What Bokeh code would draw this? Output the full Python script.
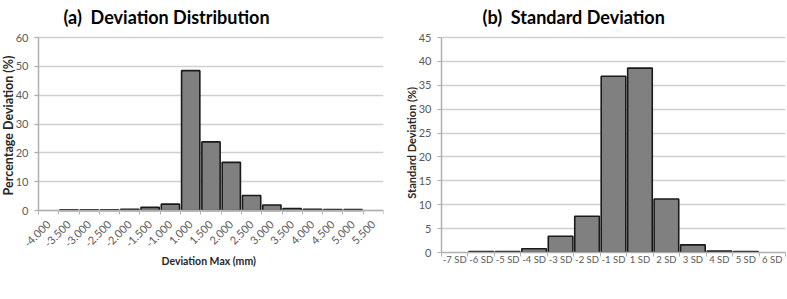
import math
from bokeh.plotting import figure
from bokeh.layouts import row
from bokeh.models import FixedTicker, Range1d, ColumnDataSource, LinearAxis, Grid, Title
from bokeh.embed import file_html
from bokeh.resources import INLINE

# ---- data: (a) Deviation Distribution ----
dev_labels = ["-4.000", "-3.500", "-3.000", "-2.500", "-2.000", "-1.500", "-1.000",
              "1.000", "1.500", "2.000", "2.500", "3.000", "3.500", "4.000",
              "4.500", "5.000", "5.500"]
dev_pct = [None, 0.2, 0.2, 0.2, 0.4, 1.1, 2.2, 48.5, 23.8, 16.7, 5.2, 1.9, 0.7,
           0.4, 0.3, 0.3, None]
dev_yticks = [0, 10, 20, 30, 40, 50, 60]

# ---- data: (b) Standard Deviation ----
sd_labels = ["-7 SD", "-6 SD", "-5 SD", "-4 SD", "-3 SD", "-2 SD", "-1 SD",
             "1 SD", "2 SD", "3 SD", "4 SD", "5 SD", "6 SD"]
sd_pct = [None, 0.2, 0.2, 0.8, 3.4, 7.6, 36.9, 38.6, 11.2, 1.6, 0.3, 0.2, None]
sd_yticks = [0, 5, 10, 15, 20, 25, 30, 35, 40, 45]

FONT = "Lato"
TICK_COLOR = "#595959"
GRID_COLOR = "#d0d0d0"
AXIS_COLOR = "#b0b0b0"
BAR_FILL = "#808080"
BAR_LINE = "#1a1a1a"

# layout (pixels)
H = 299
BORDER_TOP = 30
TOP_PAD = 7            # frame top to the highest gridline
LEFT_PLOT_PX = 173     # highest to lowest gridline, panel (a)
RIGHT_PLOT_PX = 215    # highest to lowest gridline, panel (b)
FRAME_H = TOP_PAD + RIGHT_PLOT_PX
BORDER_BOTTOM = H - BORDER_TOP - FRAME_H
LEFT_AXIS_PX = 38      # y axis of panel (a), px from the figure's left edge
LEFT_CAT_PX = 345      # width of the category band of panel (a)
LEFT_BORDER_R = 17
RIGHT_BORDER_L, RIGHT_BORDER_R, RIGHT_FRAME_W = 41, 2, 344

HAS_CROSS = "cross_bounds" in Grid.properties()


def style_title(p, text, offset):
    p.title.text = text
    p.title.text_font = FONT
    p.title.text_font_style = "bold"
    p.title.text_font_size = "18px"
    p.title.text_color = "black"
    p.title.align = "left"
    p.title.offset = offset
    p.title.standoff = 5


def style_yaxis(ya, yticks, label, size, label_standoff):
    ya.ticker = FixedTicker(ticks=yticks)
    ya.bounds = (yticks[0], yticks[-1])
    ya.axis_line_color = AXIS_COLOR
    ya.axis_line_width = 1.5
    ya.major_tick_out = 4
    ya.major_tick_in = 0
    ya.major_tick_line_color = AXIS_COLOR
    ya.minor_tick_line_color = None
    ya.major_label_text_font = FONT
    ya.major_label_text_font_size = "11px"
    ya.major_label_text_color = TICK_COLOR
    ya.major_label_standoff = 6
    ya.axis_label = label
    ya.axis_label_text_font = FONT
    ya.axis_label_text_font_style = "bold"
    ya.axis_label_text_font_size = size
    ya.axis_label_text_color = "#262626"
    ya.axis_label_standoff = label_standoff


def style_xaxis(xa, labels, rotate):
    n = len(labels)
    idx = list(range(n))
    xa.ticker = FixedTicker(ticks=idx, minor_ticks=[i - 0.5 for i in range(n + 1)])
    xa.major_label_overrides = {i: lab for i, lab in zip(idx, labels)}
    xa.bounds = (-0.5, n - 0.5)
    xa.major_tick_out = 0
    xa.major_tick_in = 0
    xa.minor_tick_out = 4
    xa.minor_tick_in = 0
    xa.minor_tick_line_color = AXIS_COLOR
    xa.axis_line_color = AXIS_COLOR
    xa.axis_line_width = 1.5
    xa.major_label_text_font = FONT
    xa.major_label_text_color = TICK_COLOR
    if rotate:
        xa.major_label_orientation = math.pi / 4
        xa.major_label_text_font_size = "11px"
        xa.major_label_standoff = 8
    else:
        xa.major_label_text_font_size = "9.5px"
        xa.major_label_standoff = -3


def bars(p, values, width):
    xs = [i for i, v in enumerate(values) if v is not None]
    tops = [v for v in values if v is not None]
    src = ColumnDataSource(dict(x=xs, top=tops))
    p.vbar(x="x", top="top", bottom=0, width=width, source=src,
           fill_color=BAR_FILL, line_color=BAR_LINE, line_width=1.6)


# ---------------- panel (a) ----------------
n1 = len(dev_labels)
ppu = LEFT_CAT_PX / n1
ppy1 = LEFT_PLOT_PX / dev_yticks[-1]
x1_start = -0.5 - LEFT_AXIS_PX / ppu
y1_end = dev_yticks[-1] + TOP_PAD / ppy1
y1_start = -(FRAME_H - TOP_PAD - LEFT_PLOT_PX) / ppy1
p1 = figure(frame_width=LEFT_AXIS_PX + LEFT_CAT_PX, frame_height=FRAME_H,
            x_range=Range1d(x1_start, n1 - 0.5),
            y_range=Range1d(y1_start, y1_end),
            x_axis_location=None, y_axis_location=None,
            output_backend="svg", toolbar_location=None,
            min_border_left=0, min_border_right=LEFT_BORDER_R,
            min_border_top=BORDER_TOP, min_border_bottom=BORDER_BOTTOM)
p1.outline_line_color = None
p1.xgrid.visible = False
p1.ygrid.visible = False
style_title(p1, "(a)\u00a0 Deviation Distribution", 63)

g1 = Grid(dimension=1, ticker=FixedTicker(ticks=dev_yticks),
          grid_line_color=GRID_COLOR, grid_line_width=1.5)
if HAS_CROSS:
    g1.cross_bounds = (-0.5 - 4 / ppu, n1 - 0.5)
    p1.add_layout(g1)
else:
    p1.segment(x0=[-0.5 - 4 / ppu] * len(dev_yticks), x1=[n1 - 0.5] * len(dev_yticks),
               y0=dev_yticks, y1=dev_yticks, line_color=GRID_COLOR, line_width=1.5)

bars(p1, dev_pct, 0.9)

# category axis on the zero line
xa1 = LinearAxis(fixed_location=0)
p1.add_layout(xa1, "below")
style_xaxis(xa1, dev_labels, True)

# x axis title, under the frame, centred on the category band
xtitle = Title(text="Deviation Max (mm)", text_font=FONT, text_font_style="bold",
               text_font_size="10.5px", text_color="#262626",
               align="left", offset=161, standoff=1)
p1.add_layout(xtitle, "below")

ya1 = LinearAxis(fixed_location=-0.5)
p1.add_layout(ya1, "left")
style_yaxis(ya1, dev_yticks, "Percentage Deviation  (%)", "12.5px", -3)

# ---------------- panel (b) ----------------
n2 = len(sd_labels)
ppy2 = RIGHT_PLOT_PX / sd_yticks[-1]
p2 = figure(frame_width=RIGHT_FRAME_W, frame_height=FRAME_H,
            x_range=Range1d(-0.5, n2 - 0.5),
            y_range=Range1d(sd_yticks[0], sd_yticks[-1] + TOP_PAD / ppy2),
            output_backend="svg", toolbar_location=None,
            min_border_left=RIGHT_BORDER_L, min_border_right=RIGHT_BORDER_R,
            min_border_top=BORDER_TOP, min_border_bottom=BORDER_BOTTOM)
p2.outline_line_color = None
style_title(p2, "(b)\u00a0 Standard Deviation", 41)
p2.xgrid.grid_line_color = None
p2.ygrid.grid_line_color = GRID_COLOR
p2.ygrid.grid_line_width = 1.5
p2.ygrid.ticker = FixedTicker(ticks=sd_yticks)
bars(p2, sd_pct, 0.93)
style_xaxis(p2.xaxis[0], sd_labels, False)
style_yaxis(p2.yaxis[0], sd_yticks, "Standard Deviation  (%)", "11px", -2)

layout = row(p1, p2)
open("out.html", "w").write(file_html(layout, INLINE))
